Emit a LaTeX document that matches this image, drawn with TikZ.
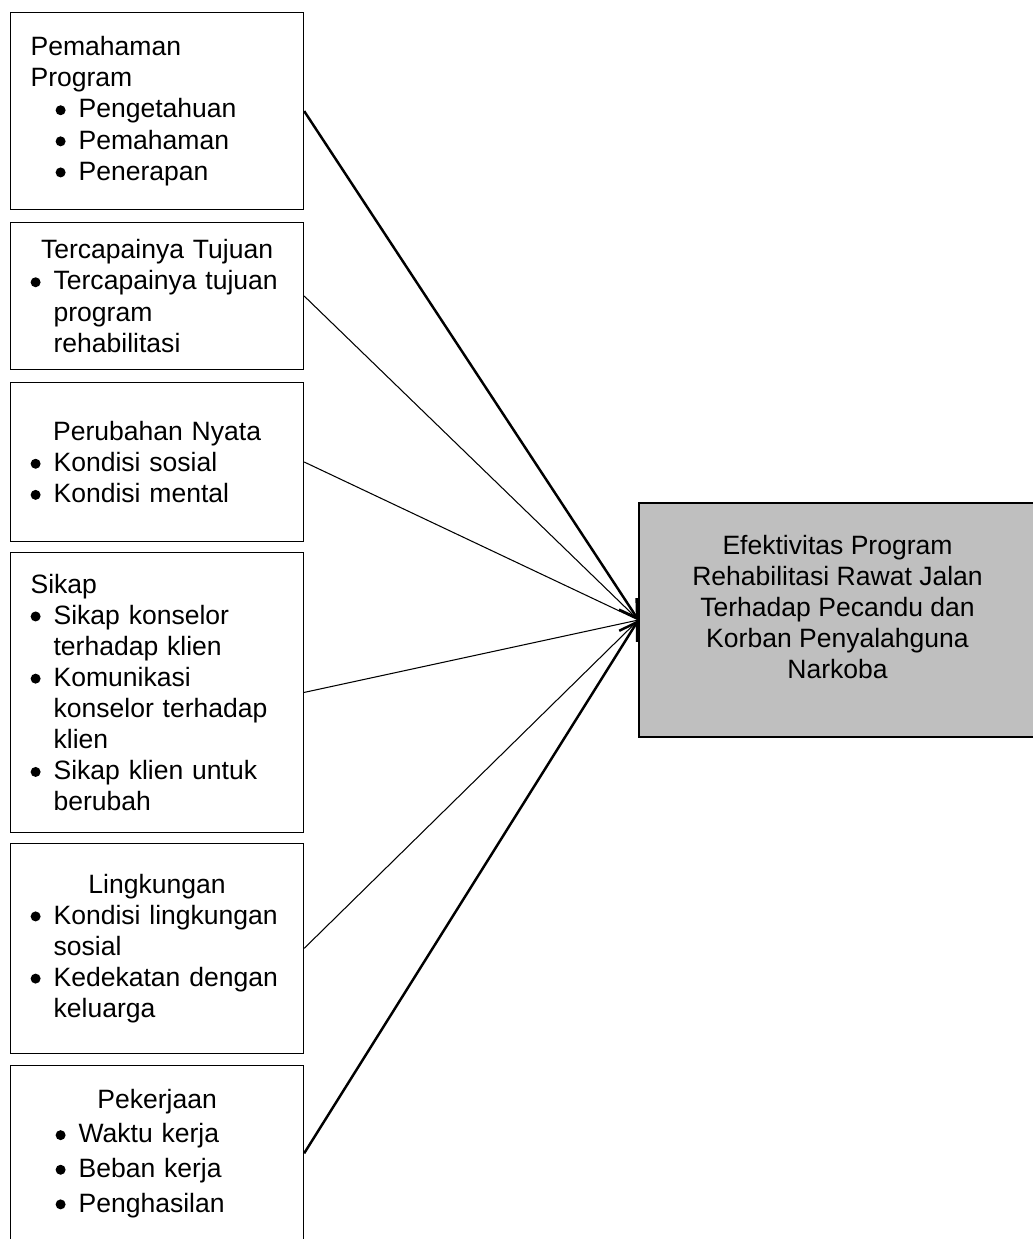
\documentclass[tikz,border=0pt]{standalone}
\usepackage{fontspec}
\setmainfont{Liberation Sans}
\usetikzlibrary{positioning,arrows.meta}

\newcommand{\titik}{\tikz[baseline=0pt]\fill (0.1cm,0.154cm) circle[radius=0.1cm];}
\newcommand{\butir}[1][0cm]{\hspace*{#1}\makebox[0.46cm][l]{\titik}}
\newcommand{\lanjut}[1][0cm]{\hspace*{\dimexpr #1+0.46cm\relax}}
\newcommand{\judul}[1]{\makebox[\hsize]{#1}}

\begin{document}
\begin{tikzpicture}[
  x=0.02cm, y=-0.02cm,
  every node/.style={font=\fontsize{15.1pt}{17.7pt}\selectfont},
  faktor/.style={draw, line width=0.7pt, minimum width=5.86cm, text width=5.06cm, inner xsep=0.4cm, align=left},
  hasil/.style={draw, line width=0.7pt, fill=gray!50, minimum width=7.94cm, minimum height=4.68cm},
  tipis/.style={line width=0.6pt},
  tebal/.style={line width=1.4pt, -{Straight Barb[length=3.4mm,width=4.2mm]}}
]
\useasboundingbox (0,0) rectangle (1032,1239);

\node[faktor, anchor=north west, minimum height=3.94cm] (b1) at (10,12) {
  Pemahaman\\
  Program\\
  \butir[0.5cm]Pengetahuan\\
  \butir[0.5cm]Pemahaman\\
  \butir[0.5cm]Penerapan};
\node[faktor, below=0.235cm of b1, minimum height=2.94cm] (b2) {
  \judul{Tercapainya Tujuan}\\
  \butir Tercapainya tujuan\\
  \lanjut program\\
  \lanjut rehabilitasi};
\node[faktor, below=0.235cm of b2, minimum height=3.18cm] (b3) {
  \judul{Perubahan Nyata}\\
  \butir Kondisi sosial\\
  \butir Kondisi mental};
\node[faktor, below=0.195cm of b3, minimum height=5.6cm] (b4) {
  Sikap\\
  \butir Sikap konselor\\
  \lanjut terhadap klien\\
  \butir Komunikasi\\
  \lanjut konselor terhadap\\
  \lanjut klien\\
  \butir Sikap klien untuk\\
  \lanjut berubah};
\node[faktor, below=0.195cm of b4, minimum height=4.2cm] (b5) {
  \judul{Lingkungan}\\
  \butir Kondisi lingkungan\\
  \lanjut sosial\\
  \butir Kedekatan dengan\\
  \lanjut keluarga};
\node[faktor, below=0.215cm of b5, minimum height=3.52cm] (b6) {
  \judul{Pekerjaan}\\[2pt]
  \butir[0.5cm]Waktu kerja\\[2pt]
  \butir[0.5cm]Beban kerja\\[2pt]
  \butir[0.5cm]Penghasilan};

\node[hasil] (efek) at (837.5,620) {};
\node[align=center] (efekteks) at ([yshift=0.26cm]efek.center) {
  Efektivitas Program\\
  Rehabilitasi Rawat Jalan\\
  Terhadap Pecandu dan\\
  Korban Penyalahguna\\
  Narkoba};

\draw[tebal] (b1.east) -- (efek.west);
\draw[tipis] (b2.east) -- (efek.west);
\draw[tipis] (b3.east) -- (efek.west);
\draw[tipis] (b4.east) -- (efek.west);
\draw[tipis] (b5.east) -- (efek.west);
\draw[tebal] (b6.east) -- (efek.west);
\end{tikzpicture}
\end{document}
